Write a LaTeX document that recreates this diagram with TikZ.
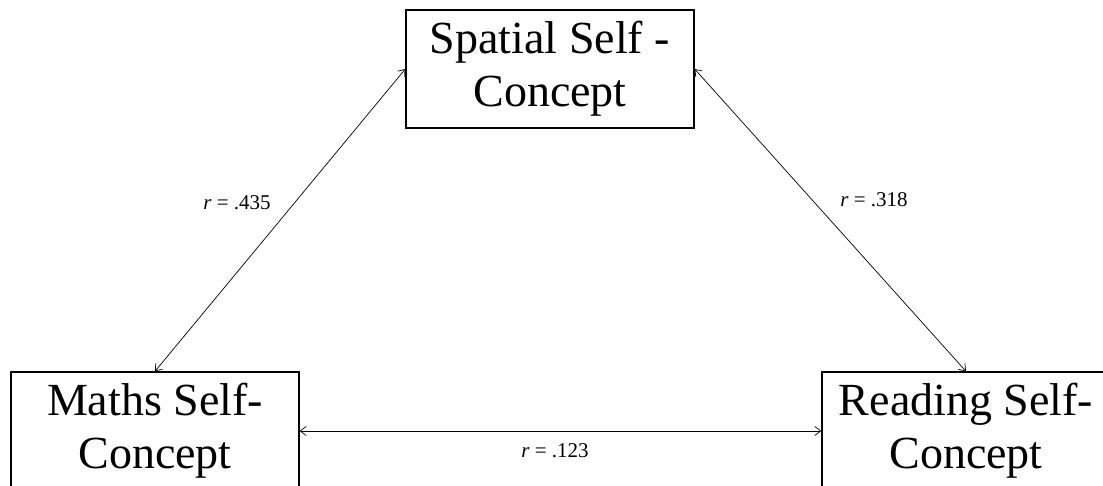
\documentclass[tikz,border=0pt]{standalone}
\usepackage{fontspec}
\setmainfont{Liberation Serif}
\usetikzlibrary{arrows.meta}

\begin{document}
\begin{tikzpicture}[
    x=1pt, y=-1pt,
    % Style for the self-concept boxes
    sc/.style={rectangle, draw=black, line width=1.3pt, inner sep=0pt, minimum width=288pt, minimum height=118pt, align=center, font=\fontsize{46}{53}\selectfont},
    % Style for the correlation arrows (open heads on both ends)
    corr/.style={{Straight Barb[length=6pt, width=9pt]}-{Straight Barb[length=6pt, width=9pt]}, line width=0.7pt},
    % Style for the correlation labels
    rlab/.style={anchor=base, font=\fontsize{21}{25}\selectfont}
]

% Page frame (the lower boxes run past the bottom edge)
\useasboundingbox (0,0) rectangle (1103,486);

% ==========================
% Self-concept boxes
% ==========================
\node[sc] (spatial) at (550,69) {Spatial Self -\\Concept};
\node[sc] (maths) at (155,431) {Maths Self-\\Concept};
\node[sc] (reading) at (966,431) {Reading Self-\\Concept};

% ==========================
% Correlations
% ==========================
\draw[corr] (spatial.west) -- (maths.north);
\draw[corr] (spatial.east) -- (reading.north);
\draw[corr] (maths.east) -- (reading.west);

\node[rlab] (rsm) at (237,210) {\textit{r} = .435};
\node[rlab] (rsr) at (874,207) {\textit{r} = .318};
\node[rlab] (rmr) at (555,457) {\textit{r} = .123};

\end{tikzpicture}
\end{document}
